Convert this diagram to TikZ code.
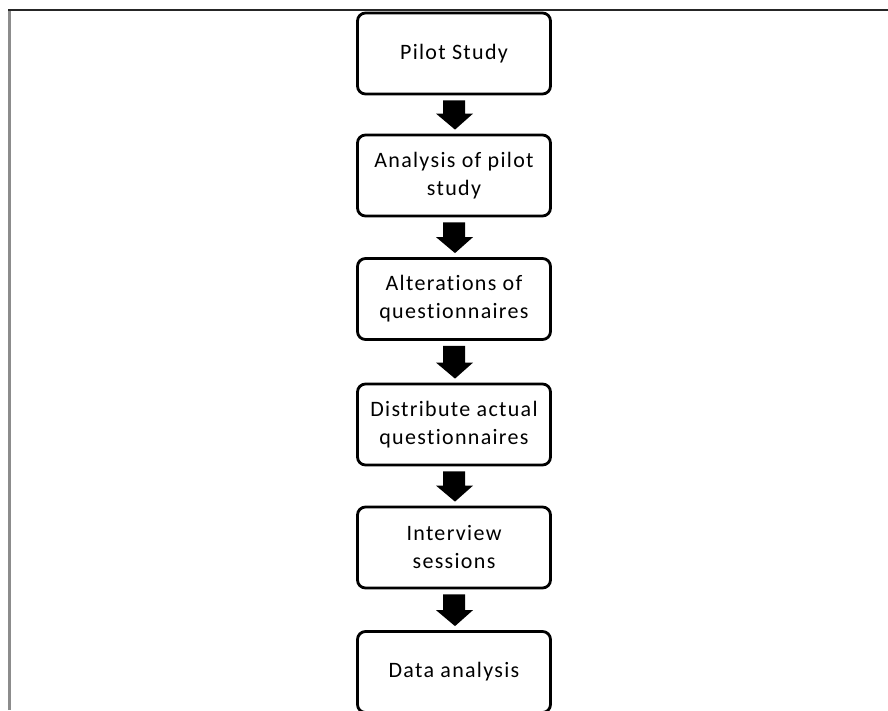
\documentclass[tikz,border=0pt]{standalone}
\usepackage{fontspec}
\setmainfont{Carlito}[LetterSpace=6,Ligatures={NoCommon}]
\usetikzlibrary{calc}
\tikzset{
  stepbox/.style={draw=black, line width=2.8pt, rounded corners=8pt,
    minimum width=193pt, minimum height=81pt, align=center,
    font=\fontsize{22}{28}\selectfont, inner sep=2pt, text=black},
  framev/.style={draw=black!45, line width=3pt},
  frameh/.style={draw=black!85, line width=2.2pt}
}
\newcommand\blockarrow[2]{%
  \fill[black] ($(#1.south)+(-11,5)$) -- ($(#2.north)+(-11,-20)$) --
    ($(#2.north)+(-18,-20)$) -- ($(#2.north)+(1,-4)$) --
    ($(#2.north)+(19,-20)$) -- ($(#2.north)+(11,-20)$) --
    ($(#1.south)+(11,5)$) -- cycle;}
\begin{document}
\begin{tikzpicture}[x=1pt,y=-1pt]
\useasboundingbox (0,0) rectangle (888,710);
\coordinate (fl) at (9.5,710);
\coordinate (ftr) at (888,10);
\draw[framev] (fl) -- (9.5,8.9);
\draw[frameh] (8,10) -- (ftr);
\node[stepbox] (s1) at (454,53.5) {Pilot Study};
\node[stepbox] (s2) at (454,175.5) {Analysis of pilot\\study};
\node[stepbox] (s3) at (454,299) {Alterations of\\questionnaires};
\node[stepbox] (s4) at (454,424.5) {Distribute actual\\questionnaires};
\node[stepbox] (s5) at (454,547.5) {Interview\\sessions};
\node[stepbox] (s6) at (454,672) {Data analysis};
\blockarrow{s1}{s2}
\blockarrow{s2}{s3}
\blockarrow{s3}{s4}
\blockarrow{s4}{s5}
\blockarrow{s5}{s6}
\end{tikzpicture}
\end{document}
